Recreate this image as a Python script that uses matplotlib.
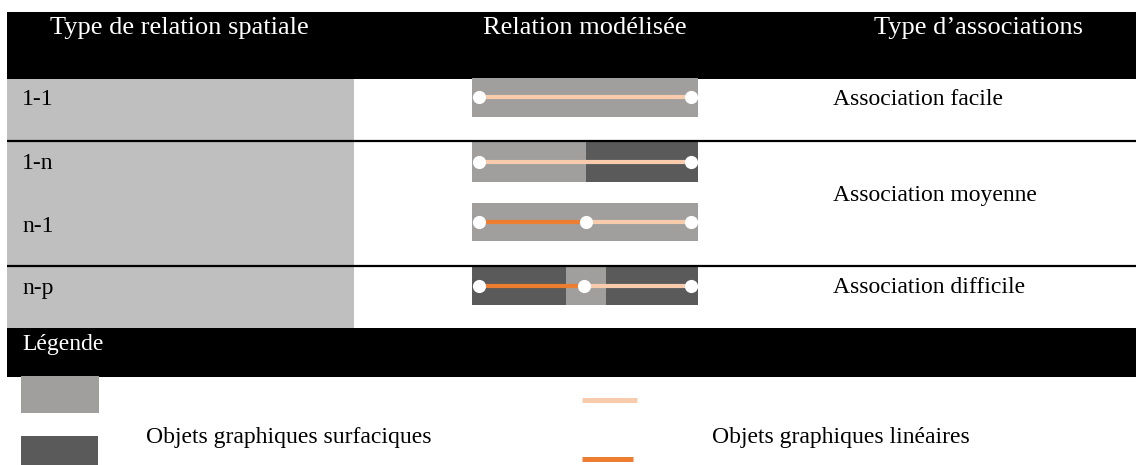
import matplotlib.pyplot as plt
from matplotlib.patches import Rectangle

# contenu du tableau
relations = ["1-1", "1-n", "n-1", "n-p"]
entetes = ["Type de relation spatiale", "Relation modélisée", "Type d\u2019associations"]
associations = ["Association facile", "Association moyenne", "Association difficile"]

# decoupage des objets surfaciques de chaque ligne (type, part de la largeur)
surfaces = [
    [("clair", 1.0)],
    [("clair", 0.504), ("fonce", 0.496)],
    [("clair", 1.0)],
    [("fonce", 0.416), ("clair", 0.177), ("fonce", 0.407)],
]
# noeuds (part de la longueur) et type des troncons lineaires entre eux
noeuds = [[0, 1], [0, 1], [0, 0.505, 1], [0, 0.495, 1]]
troncons = [["clair"], ["clair"], ["fonce", "clair"], ["fonce", "clair"]]

legende = ["Objets graphiques surfaciques", "Objets graphiques linéaires"]

gris_surf = {"clair": "#A09F9D", "fonce": "#5A5A5A"}
coul_lin = {"clair": "#F8CBAD", "fonce": "#ED7D31"}

plt.rcParams['font.family'] = ['Liberation Serif', 'DejaVu Serif']

fig = plt.figure(figsize=(11.36, 4.65), dpi=100)
ax = fig.add_axes([0, 0, 1, 1])
ax.set_xlim(0, 1136)
ax.set_ylim(465, 0)
ax.axis('off')

def rect(x0, y0, x1, y1, c):
    ax.add_patch(Rectangle((x0, y0), x1 - x0, y1 - y0, facecolor=c, edgecolor='none', lw=0))

# en-tete
rect(7, 12, 1136, 79, "black")
for txt, x in zip(entetes, [50, 585, 979]):
    ha = 'left' if x == 50 else 'center'
    ax.text(x, 28, txt, color='white', fontsize=19, ha=ha, va='center')

# colonne grise
rect(7, 79, 354, 328, "#BFBFBF")
for y in [141, 265.5]:
    ax.plot([7, 1136], [y, y], color='black', lw=1.6, solid_capstyle='butt')

ligne_y = [99, 163, 226, 288]
for lab, y in zip(relations, ligne_y):
    ax.text(22, y, lab, fontsize=17, va='center', ha='left')

# schemas
box_y = [(78, 117), (142, 182), (203, 241), (266, 305)]
bx0, bx1 = 472, 698
nx0, nx1 = 479, 691
for i in range(len(relations)):
    y0, y1 = box_y[i]
    x = bx0
    for typ, part in surfaces[i]:
        w = part * (bx1 - bx0)
        rect(x, y0, x + w, y1, gris_surf[typ])
        x += w
    yc = (y0 + y1) / 2
    xs = [nx0 + p * (nx1 - nx0) for p in noeuds[i]]
    for k, typ in enumerate(troncons[i]):
        ax.plot([xs[k], xs[k + 1]], [yc, yc], color=coul_lin[typ], lw=3, solid_capstyle='butt')
    ax.scatter(xs, [yc] * len(xs), s=90, color='white', zorder=5, linewidths=0)

for txt, y in zip(associations, [99, 195, 287]):
    ax.text(833, y, txt, fontsize=17, va='center', ha='left')

# legende
rect(7, 328, 1136, 377, "black")
ax.text(22, 344, "Légende", color='white', fontsize=17, va='center', ha='left')
rect(21, 376, 99, 413, gris_surf["clair"])
rect(21, 436, 98, 465, gris_surf["fonce"])
ax.plot([582, 637], [399.5, 399.5], color=coul_lin["clair"], lw=3.6, solid_capstyle='butt')
ax.plot([582, 633], [458.5, 458.5], color=coul_lin["fonce"], lw=3.6, solid_capstyle='butt')
ax.text(146, 437, legende[0], fontsize=17, va='center', ha='left')
ax.text(712, 437, legende[1], fontsize=17, va='center', ha='left')

fig.savefig('out.png', dpi=100)
